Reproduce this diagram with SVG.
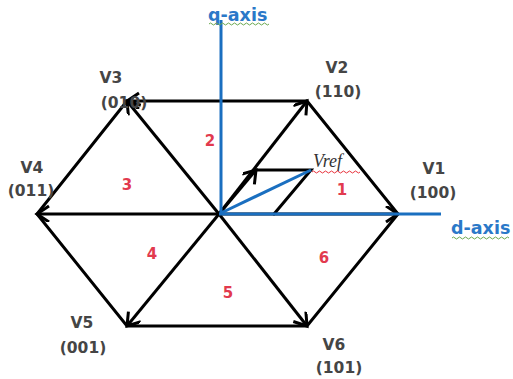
<svg xmlns="http://www.w3.org/2000/svg" width="513" height="379" viewBox="0 0 513 379">
<defs>
<marker id="ah" markerUnits="userSpaceOnUse" markerWidth="20" markerHeight="20" refX="14" refY="8" orient="auto">
<path d="M2,0 L14,8 L2,16" fill="none" stroke="#000" stroke-width="3"/>
</marker>
<style>
.e{stroke:#000;stroke-width:3;fill:none;stroke-linecap:round}
.a{stroke:#000;stroke-width:3;fill:none;marker-end:url(#ah)}
.b{stroke:#1a6fc0;stroke-width:3;fill:none}
.lb{font-family:"DejaVu Sans",sans-serif;font-weight:bold;font-size:15.5px;fill:#454545;text-anchor:middle}
.ax{font-family:"DejaVu Sans",sans-serif;font-weight:bold;font-size:17.5px;fill:#2a78c8}
.n{font-family:"DejaVu Sans",sans-serif;font-weight:bold;font-size:15px;fill:#e23a4e;text-anchor:middle}
.sq{fill:none;stroke-width:1}
</style>
</defs>
<rect width="513" height="379" fill="#fff"/>
<g id="connectors">
<path class="e" d="M307,101 L398,214 L307,326 L127,326 L37,214 L127,101"/>
<path class="a" d="M307,101 L127,101"/>
<path class="a" d="M219,214 L398,214"/>
<path class="a" d="M219,214 L307,101"/>
<path class="a" d="M219,214 L127,101"/>
<path class="a" d="M219,214 L37,214"/>
<path class="a" d="M219,214 L127,326"/>
<path class="a" d="M219,214 L307,326"/>
<path class="a" d="M219,214 L256,170"/>
<path class="e" d="M256,170 L311,170 L274,214"/>
<path class="b" d="M221,214 L221,20"/>
<path class="b" d="M219,214 L441,214"/>
<path class="b" d="M221,213 L311,170"/>
</g>
<g id="q-axis"><text class="ax" x="208" y="21">q-axis</text>
<path class="sq" stroke="#6aa84f" d="M209,24 q1.5,-2 3,0 t3,0 t3,0 t3,0 t3,0 t3,0 t3,0 t3,0 t3,0 t3,0 t3,0 t3,0 t3,0 t3,0 t3,0 t3,0 t3,0 t3,0 t3,0 t3,0"/></g>
<g id="d-axis"><text class="ax" x="451" y="234">d-axis</text>
<path class="sq" stroke="#6aa84f" d="M452,238 q1.5,-2 3,0 t3,0 t3,0 t3,0 t3,0 t3,0 t3,0 t3,0 t3,0 t3,0 t3,0 t3,0 t3,0 t3,0 t3,0 t3,0 t3,0 t3,0 t3,0"/></g>
<g id="V1"><text class="lb" x="434" y="174">V1</text><text class="lb" x="433" y="198">(100)</text></g>
<g id="V2"><text class="lb" x="337" y="73">V2</text><text class="lb" x="338" y="97">(110)</text></g>
<g id="V3"><text class="lb" x="111" y="83">V3</text><text class="lb" x="124" y="108">(010)</text></g>
<g id="V4"><text class="lb" x="32" y="173">V4</text><text class="lb" x="31" y="196">(011)</text></g>
<g id="V5"><text class="lb" x="82" y="328">V5</text><text class="lb" x="83" y="353">(001)</text></g>
<g id="V6"><text class="lb" x="334" y="350">V6</text><text class="lb" x="339" y="373">(101)</text></g>
<g id="Vref"><text x="313" y="167" font-family="Liberation Serif,serif" font-style="italic" font-size="18" fill="#333">Vref</text>
<path class="sq" stroke="#e8323c" d="M312,172 q1.5,-2 3,0 t3,0 t3,0 t3,0 t3,0 t3,0 t3,0 t3,0 t3,0 t3,0 t3,0 t3,0 t3,0 t3,0 t3,0 t3,0"/></g>
<g id="sectors">
<text class="n" x="342" y="195">1</text>
<text class="n" x="210" y="146">2</text>
<text class="n" x="127" y="190">3</text>
<text class="n" x="152" y="259">4</text>
<text class="n" x="228" y="298">5</text>
<text class="n" x="324" y="263">6</text>
</g>
</svg>
